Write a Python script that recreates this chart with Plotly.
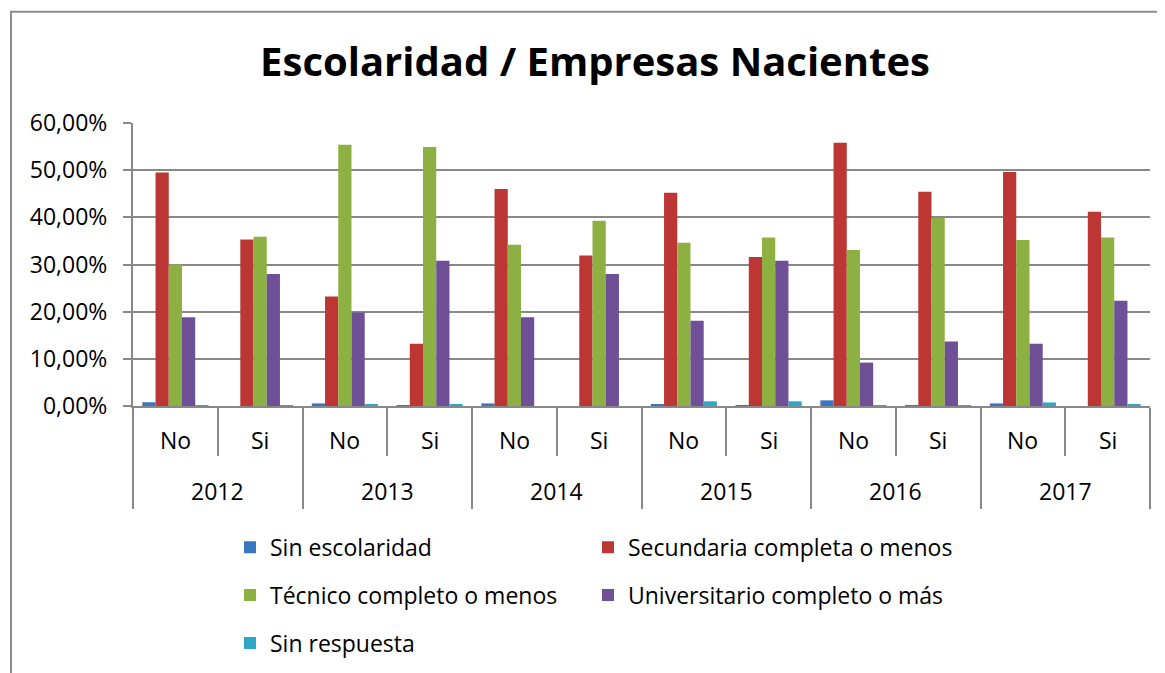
import plotly.graph_objects as go

years = ["2012", "2013", "2014", "2015", "2016", "2017"]
groups = ["No", "Si"]

series_names = [
    "Sin escolaridad",
    "Secundaria completa o menos",
    "Técnico completo o menos",
    "Universitario completo o más",
    "Sin respuesta",
]

# values in %, order: 2012 No, 2012 Si, 2013 No, 2013 Si, ... 2017 Si
sin_escolaridad = [0.8, 0.0, 0.55, 0.15, 0.55, 0.0, 0.35, 0.15, 1.2, 0.15, 0.55, 0.0]
secundaria = [49.5, 35.3, 23.2, 13.2, 46.0, 31.9, 45.2, 31.6, 55.8, 45.4, 49.6, 41.2]
tecnico = [30.0, 35.9, 55.4, 54.9, 34.2, 39.3, 34.6, 35.7, 33.1, 39.9, 35.2, 35.7]
universitario = [18.8, 28.0, 19.8, 30.8, 18.8, 28.0, 18.1, 30.8, 9.2, 13.7, 13.2, 22.3]
sin_respuesta = [0.12, 0.12, 0.35, 0.35, 0.0, 0.0, 1.0, 1.0, 0.12, 0.12, 0.75, 0.35]

colors = ["#3A76C0", "#BC3734", "#8DB042", "#6F5097", "#2EA7C9"]

# category positions derived from the (year, group) pairs
pairs = [(y, g) for y in years for g in groups]
xpos = list(range(len(pairs)))
n_g = len(groups)

all_values = [sin_escolaridad, secundaria, tecnico, universitario, sin_respuesta]
legend_ids = ["legend", "legend2", "legend3", "legend4", "legend5"]

fig = go.Figure()
for name, vals, col, lg in zip(series_names, all_values, colors, legend_ids):
    fig.add_trace(go.Bar(
        x=xpos,
        y=[v / 100 for v in vals],
        name=name,
        marker=dict(color=col, line=dict(width=0)),
        legend=lg,
        hovertext=[f"{y} {g}" for y, g in pairs],
    ))

font_family = "'Open Sans', Lato, sans-serif"
GRAY = "#888888"

# page body has an 8px margin: work in reference pixels, shift by OFF
OFF = 8
W, H = 1165 - OFF, 673 - OFF
plot_left, plot_right, plot_top, plot_bottom = 133, 1150, 123, 406.5
ml = plot_left - OFF
mr = W - (plot_right - OFF)
mt = plot_top - OFF
mb = H - (plot_bottom - OFF)
pw, ph = W - ml - mr, H - mt - mb

def px_x(px):
    return (px - OFF - ml) / pw

def px_y(py):
    return (H - mb - (py - OFF)) / ph

legend_common = dict(
    orientation="h",
    font=dict(family=font_family, size=23, color="#000000"),
    bgcolor="rgba(0,0,0,0)",
    xanchor="left",
    yanchor="middle",
    itemclick=False,
)

col_x = [230, 588]
row_y = [548, 596, 644]

fig.update_layout(
    width=W,
    height=H,
    margin=dict(l=ml, r=mr, t=mt, b=mb, autoexpand=False),
    paper_bgcolor="white",
    plot_bgcolor="white",
    barmode="group",
    bargap=0.22,
    bargroupgap=0,
    separators=",.",
    title=dict(
        text="<b>Escolaridad / Empresas Nacientes</b>",
        font=dict(family=font_family, size=40, color="#000000"),
        x=((262 + 928) / 2 - OFF) / W,
        xanchor="center",
        y=1 - (62 - OFF) / H,
        yanchor="middle",
    ),
    font=dict(family=font_family, size=22, color="#000000"),
    legend=dict(x=px_x(col_x[0]), y=px_y(row_y[0]), **legend_common),
    legend2=dict(x=px_x(col_x[1]), y=px_y(row_y[0]), **legend_common),
    legend3=dict(x=px_x(col_x[0]), y=px_y(row_y[1]), **legend_common),
    legend4=dict(x=px_x(col_x[1]), y=px_y(row_y[1]), **legend_common),
    legend5=dict(x=px_x(col_x[0]), y=px_y(row_y[2]), **legend_common),
    showlegend=True,
)

fig.update_yaxes(
    range=[0, 0.6],
    dtick=0.1,
    tickformat=".2%",
    showgrid=True,
    gridcolor=GRAY,
    gridwidth=2,
    showline=True,
    linecolor=GRAY,
    linewidth=2,
    ticks="outside",
    ticklen=8,
    tickcolor=GRAY,
    tickwidth=2,
    ticklabelstandoff=11,
    tickfont=dict(family=font_family, size=23, color="#000000"),
    zeroline=False,
)

# inner boundaries (No | Si) as major ticks, year boundaries as long minor ticks
inner_bounds = [i + 0.5 for i in xpos if (i % n_g) != n_g - 1]
year_bounds = [i - 0.5 for i in xpos if i % n_g == 0] + [xpos[-1] + 0.5]

fig.update_xaxes(
    type="linear",
    range=[xpos[0] - 0.5, xpos[-1] + 0.5],
    showline=True,
    linecolor=GRAY,
    linewidth=2,
    tickmode="array",
    tickvals=inner_bounds,
    ticktext=["" for _ in inner_bounds],
    ticks="outside",
    ticklen=48,
    tickcolor=GRAY,
    tickwidth=2,
    minor=dict(
        tickmode="array",
        tickvals=year_bounds,
        ticks="outside",
        ticklen=101,
        tickcolor=GRAY,
        tickwidth=2,
        showgrid=False,
    ),
    showticklabels=False,
    showgrid=False,
    zeroline=False,
)

# category labels (inner level: No/Si, outer level: years)
for i, (y, g) in zip(xpos, pairs):
    fig.add_annotation(
        x=i, xref="x", y=px_y(441), yref="paper",
        text=g, showarrow=False, xanchor="center", yanchor="middle",
        font=dict(family=font_family, size=23, color="#000000"),
    )
for k, y in enumerate(years):
    fig.add_annotation(
        x=k * n_g + (n_g - 1) / 2, xref="x", y=px_y(492), yref="paper",
        text=y, showarrow=False, xanchor="center", yanchor="middle",
        font=dict(family=font_family, size=23, color="#000000"),
    )

# outer chart border (Excel chart area frame)
fig.add_shape(
    type="rect",
    xref="paper", yref="paper",
    x0=px_x(11), x1=px_x(1185),
    y0=px_y(700), y1=px_y(11.5),
    line=dict(color="#8C8C8C", width=2),
    fillcolor="rgba(0,0,0,0)",
    layer="below",
)

fig.write_html("out.html")
